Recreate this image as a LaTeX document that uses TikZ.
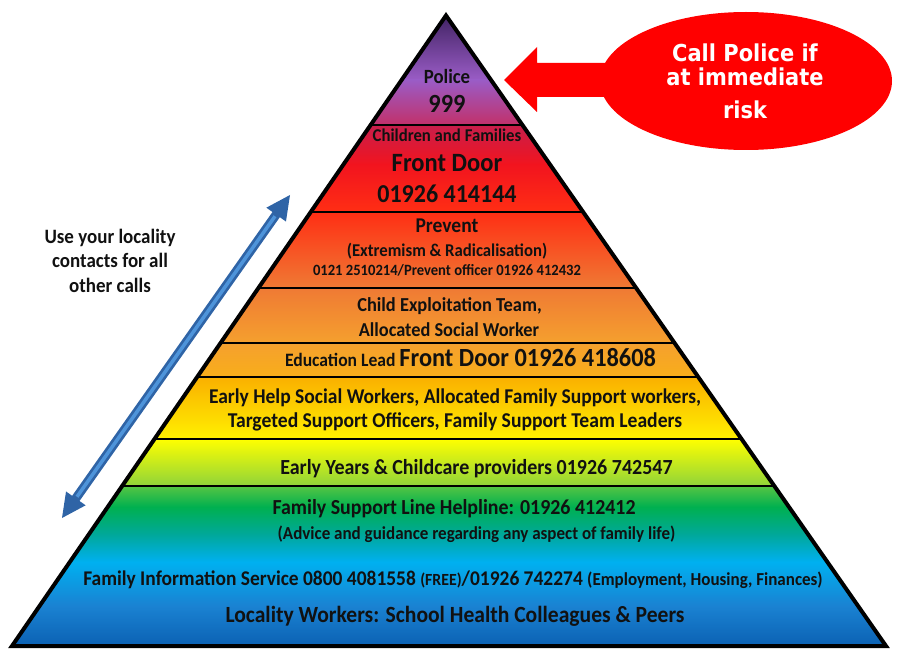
\documentclass[tikz,border=0pt]{standalone}
\usepackage{fontspec}
\setmainfont{Carlito}[FakeStretch=0.93]
\newfontfamily\callfont{DejaVu Sans}
\usetikzlibrary{calc}
\definecolor{txt}{HTML}{111111}
\definecolor{pTop}{HTML}{3A1F5C}
\definecolor{pMid}{HTML}{9A5CC6}
\definecolor{pBot}{HTML}{C2306A}
\definecolor{cTop}{HTML}{C81E4B}
\definecolor{cMid}{HTML}{F2141E}
\definecolor{cBot}{HTML}{FF2E14}
\definecolor{vBot}{HTML}{EF7A34}
\definecolor{xBot}{HTML}{F5A02E}
\definecolor{eBot}{HTML}{F8AE1A}
\definecolor{hTop}{HTML}{FAB000}
\definecolor{hBot}{HTML}{FFF000}
\definecolor{yTop}{HTML}{FFFF00}
\definecolor{yBot}{HTML}{8FD43A}
\definecolor{gA}{HTML}{00B050}
\definecolor{gB}{HTML}{00A89A}
\definecolor{gC}{HTML}{00B0F0}
\definecolor{gD}{HTML}{1A82D2}
\definecolor{gE}{HTML}{0A5EB0}
\definecolor{arrRed}{HTML}{FF0000}
\definecolor{blueDark}{HTML}{2F64A6}
\definecolor{blueLight}{HTML}{4E94DA}
\newcommand\fsz[1]{\fontsize{#1}{#1}\selectfont\bfseries}
\begin{document}
\begin{tikzpicture}[x=1pt,y=-1pt,
  t/.style={inner sep=0pt, anchor=base, text=txt},
  band/.style={draw=black, line width=1.8pt},
]
\useasboundingbox (0,0) rectangle (900,658);
\coordinate (A) at (446,15.5);
\coordinate (BL) at (12,646);
\coordinate (BR) at (886,646);
\begin{scope}
\clip (A) -- (BL) -- (BR) -- cycle;
\shade[top color=pTop, bottom color=pMid] (0,10) rectangle (900,80);
\shade[top color=pMid, bottom color=pBot] (0,80) rectangle (900,125);
\shade[top color=cTop, bottom color=cMid] (0,125) rectangle (900,165);
\shade[top color=cMid, bottom color=cBot] (0,165) rectangle (900,212);
\shade[top color=cBot, bottom color=vBot] (0,212) rectangle (900,288);
\shade[top color=vBot, bottom color=xBot] (0,288) rectangle (900,343);
\shade[top color=xBot, bottom color=eBot] (0,343) rectangle (900,377);
\shade[top color=hTop, bottom color=hBot] (0,377) rectangle (900,439);
\shade[top color=yTop, bottom color=yBot] (0,439) rectangle (900,486);
\shade[top color=yBot!60!gA, bottom color=gA] (0,486) rectangle (900,507);
\shade[top color=gA, bottom color=gC, middle color=gB] (0,507) rectangle (900,562);
\shade[top color=gC, bottom color=gE, middle color=gD] (0,562) rectangle (900,650);
\foreach \yy in {125,212,288,343,377,439,486}
  \draw[band] (0,\yy) -- (900,\yy);
\end{scope}
\draw[line width=4pt, line join=miter] (A) -- (BL) -- (BR) -- cycle;

% texts in pyramid
\node[t, font=\fsz{20.2}] (police) at (447,83.5) {Police};
\node[t, font=\fsz{26.2}] (n999) at (447,112.5) {999};
\node[t, font=\fsz{18}] (cf) at (447,141.8) {Children and Families};
\node[t, font=\fsz{26.4}] (fd) at (447,171.5) {Front Door};
\node[t, font=\fsz{25.8}] (fdn) at (447,202) {01926 414144};
\node[t, font=\fsz{21}] (prev) at (447,232.5) {Prevent};
\node[t, font=\fsz{18}] (ext) at (447,256) {(Extremism \& Radicalisation)};
\node[t, font=\fsz{15.7}] (pnum) at (447,275) {0121 2510214/Prevent officer 01926 412432};
\node[t, font=\fsz{19.8}] (cet) at (449.5,311.5) {Child Exploitation Team,};
\node[t, font=\fsz{19.7}] (asw) at (449,336.5) {Allocated Social Worker};
\node[t] (edu) at (470.5,366) {\fsz{18.9}Education Lead \fsz{26.2}Front Door 01926 418608};
\node[t, font=\fsz{21}] (eh1) at (455,403.5) {Early Help Social Workers, Allocated Family Support workers,};
\node[t, font=\fsz{21.1}] (eh2) at (455,427.5) {Targeted Support Officers, Family Support Team Leaders};
\node[t, font=\fsz{21.5}] (ey) at (476.5,474.5) {Early Years \& Childcare providers 01926 742547};
\node[t, font=\fsz{21.4}] (fsl) at (454,514.5) {Family Support Line Helpline: 01926 412412};
\node[t, font=\fsz{18.3}] (adv) at (476.5,539) {(Advice and guidance regarding any aspect of family life)};
\node[t] (fis) at (453,585.5) {\fsz{20.9}Family Information Service 0800 4081558 \fsz{17}(FREE)\fsz{20.9}/01926 742274 \fsz{18.3}(Employment, Housing, Finances)};
\node[t, font=\fsz{23.2}] (loc) at (455,622.5) {Locality Workers: School Health Colleagues \& Peers};

% left text
\node[t, font=\fsz{20.4}] (use1) at (110,243.5) {Use your locality};
\node[t, font=\fsz{20.4}] (use2) at (110,267.5) {contacts for all};
\node[t, font=\fsz{20.4}] (use3) at (110,292.5) {other calls};

% red callout
\coordinate (tip) at (504,80);
\fill[arrRed] (tip) -- (537,47) -- (537,63) -- (660,63) -- (660,97) -- (537,97) -- (537,112) -- cycle;
\fill[arrRed] (746,81) ellipse [x radius=146, y radius=69];
\node[t, text=white] (call1) at (745,61.5) {\scalebox{0.9}[1]{\callfont\fsz{23.3}Call Police if}};
\node[t, text=white] (call2) at (745,85.5) {\scalebox{0.9}[1]{\callfont\fsz{23.3}at immediate}};
\node[t, text=white] (call3) at (745,118.5) {\scalebox{0.9}[1]{\callfont\fsz{23.3}risk}};

% double arrow
\coordinate (dB) at (62,518);
\coordinate (dT) at (290,195);
\fill[blueDark]
  (dB) -- ($(dB)!24pt!(dT)!12pt!90:(dT)$) -- ($(dB)!24pt!(dT)!4.5pt!90:(dT)$)
  -- ($(dT)!24pt!(dB)!4.5pt!-90:(dB)$) -- ($(dT)!24pt!(dB)!12pt!-90:(dB)$)
  -- (dT) -- ($(dT)!24pt!(dB)!12pt!90:(dB)$) -- ($(dT)!24pt!(dB)!4.5pt!90:(dB)$)
  -- ($(dB)!24pt!(dT)!4.5pt!-90:(dT)$) -- ($(dB)!24pt!(dT)!12pt!-90:(dT)$) -- cycle;
\draw[blueLight, line width=3.5pt] ($(dB)!26pt!(dT)$) -- ($(dT)!26pt!(dB)$);
\end{tikzpicture}
\end{document}
